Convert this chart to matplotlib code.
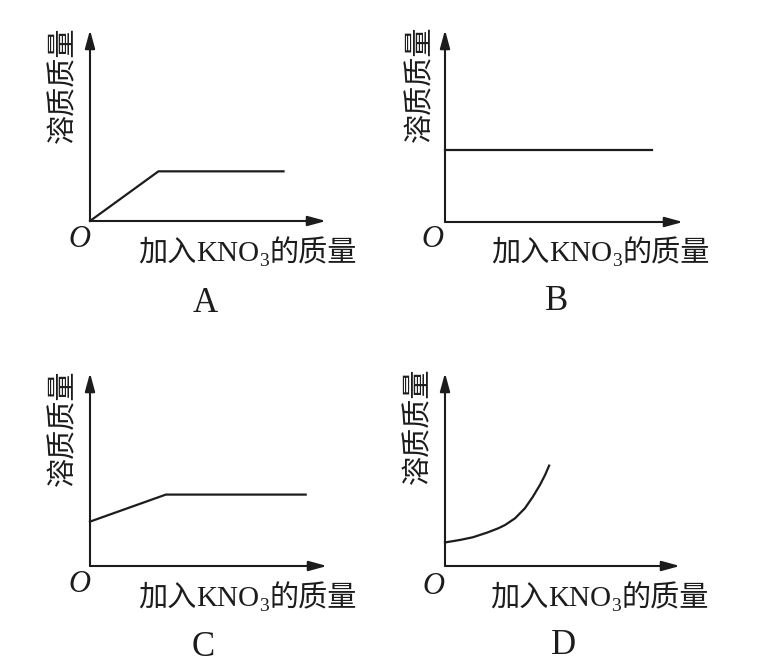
import matplotlib
matplotlib.use("Agg")
import matplotlib.pyplot as plt
from matplotlib.transforms import offset_copy

# four sketches of solute mass vs. added KNO3 (arbitrary units, axes run 0..10)
a_x = [0, 2.9, 8.2]
a_y = [0, 2.6, 2.6]

b_x = [0, 8.7]
b_y = [3.75, 3.75]

c_x = [0, 3.2, 9.1]
c_y = [2.3, 3.7, 3.7]

d_x = [0, 0.64, 1.19, 1.79, 2.26, 2.55, 2.98, 3.40, 3.74, 4.04, 4.26, 4.43]
d_y = [1.22, 1.35, 1.49, 1.73, 1.95, 2.12, 2.47, 2.99, 3.59, 4.20, 4.72, 5.2]

panel_names = ["A", "B", "C", "D"]
ylabel = "溶质质量"

W, H = 769, 669
INK = "#1c1c1c"
CJK = ["Noto Sans CJK SC", "DejaVu Sans"]
SERIF = ["Liberation Serif", "DejaVu Serif"]

fig = plt.figure(figsize=(W / 100, H / 100), dpi=100)
fig.patch.set_facecolor("white")


def fx(x):
    return x / W


def fy(y):
    return 1 - y / H


# pixel layout of each panel: origin, x-arrow tip, y-arrow top
panels = [
    (90, 221, 326, 30, a_x, a_y),
    (445, 222, 683, 30, b_x, b_y),
    (90, 566, 327, 373, c_x, c_y),
    (445, 566, 680, 373, d_x, d_y),
]

for ox, oy, tx, ty, xs, ys in panels:
    ax = fig.add_axes([fx(ox), fy(oy), (tx - ox) / W, (oy - ty) / H])
    ax.set_xlim(0, 10)
    ax.set_ylim(0, 10)
    ax.axis("off")
    arrow = dict(arrowstyle="-|>,head_length=0.55,head_width=0.15",
                 mutation_scale=20, lw=1.5, color=INK,
                 shrinkA=0, shrinkB=0)
    ax.annotate("", xy=(1, 0), xytext=(0, 0), xycoords="axes fraction",
                arrowprops=arrow)
    ax.annotate("", xy=(0, 1), xytext=(0, 0), xycoords="axes fraction",
                arrowprops=arrow)
    ax.plot(xs, ys, color=INK, lw=1.6, clip_on=False,
            solid_joinstyle="round")

renderer = fig.canvas.get_renderer()


def kno3_label(x, y):
    # 加入KNO3的质量, pieced together so the 3 can sit low
    pieces = [("加入", CJK, 21, 0), ("KNO", SERIF, 21, 0),
              ("3", SERIF, 14, -5), ("的质量", CJK, 21, 0)]
    trans = fig.transFigure
    for s, fam, size, dy in pieces:
        tr = offset_copy(trans, fig=fig, x=0, y=dy, units="dots")
        t = fig.text(fx(x), fy(y), s, transform=tr, family=fam,
                     fontsize=size, va="baseline", ha="left", color=INK)
        t.draw(renderer)
        ex = t.get_window_extent(renderer)
        trans = offset_copy(trans, fig=fig, x=ex.width, units="dots")


# y labels, O marks, x labels, panel letters
ylab_pos = [(63, 85), (420, 84), (63, 428), (418, 426)]
o_pos = [(79, 240), (432, 240), (79, 585), (433, 587)]
xlab_pos = [(138, 261), (491, 261), (138, 606), (490, 606)]
name_pos = [(205, 303), (557, 302), (203, 647), (563, 645)]

for i in range(4):
    x, y = ylab_pos[i]
    fig.text(fx(x), fy(y), ylabel, rotation=90, ha="center", va="center",
             family=CJK, fontsize=21, color=INK)
    x, y = o_pos[i]
    fig.text(fx(x), fy(y), "O", ha="center", va="center", family=SERIF,
             style="italic", fontsize=22, color=INK)
    kno3_label(*xlab_pos[i])
    x, y = name_pos[i]
    fig.text(fx(x), fy(y), panel_names[i], ha="center", va="center",
             family=SERIF, fontsize=25, color=INK)

fig.savefig("out.png", dpi=100, facecolor="white")
